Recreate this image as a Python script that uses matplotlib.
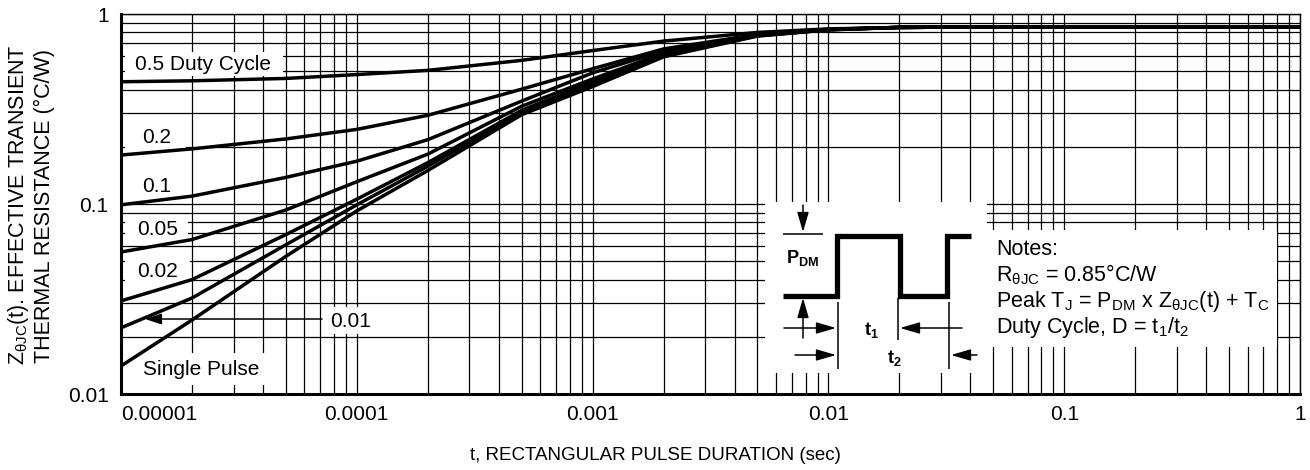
import matplotlib
matplotlib.use('Agg')
import matplotlib.pyplot as plt
from matplotlib.transforms import Affine2D
from matplotlib.patches import Rectangle
from matplotlib.ticker import LogLocator, NullFormatter, FixedLocator

plt.rcParams['font.family'] = ['Liberation Sans', 'DejaVu Sans']
plt.rcParams['mathtext.fontset'] = 'custom'
plt.rcParams['mathtext.rm'] = 'Liberation Sans'
plt.rcParams['mathtext.it'] = 'Liberation Sans:italic'
plt.rcParams['mathtext.bf'] = 'Liberation Sans:bold'

# ---------------- data ----------------
t_sec = [1e-5, 2e-5, 5e-5, 1e-4, 2e-4, 5e-4, 1e-3, 2e-3, 5e-3, 1e-2, 2e-2, 5e-2, 1e-1, 1.0]
z_d050 = [0.440, 0.445, 0.458, 0.480, 0.505, 0.570, 0.642, 0.720, 0.800, 0.835, 0.850, 0.855, 0.857, 0.857]
z_d020 = [0.181, 0.195, 0.220, 0.247, 0.293, 0.402, 0.515, 0.655, 0.780, 0.830, 0.850, 0.855, 0.857, 0.857]
z_d010 = [0.099, 0.110, 0.138, 0.168, 0.218, 0.348, 0.490, 0.640, 0.775, 0.830, 0.850, 0.855, 0.857, 0.857]
z_d005 = [0.0559, 0.065, 0.093, 0.131, 0.183, 0.327, 0.455, 0.622, 0.772, 0.828, 0.850, 0.855, 0.857, 0.857]
z_d002 = [0.0309, 0.040, 0.069, 0.106, 0.165, 0.311, 0.440, 0.610, 0.770, 0.827, 0.850, 0.855, 0.857, 0.857]
z_d001 = [0.0223, 0.032, 0.061, 0.099, 0.158, 0.303, 0.428, 0.603, 0.768, 0.826, 0.850, 0.855, 0.857, 0.857]
z_single = [0.01404, 0.0245, 0.053, 0.092, 0.150, 0.295, 0.415, 0.595, 0.765, 0.825, 0.850, 0.855, 0.857, 0.857]
series = [z_d050, z_d020, z_d010, z_d005, z_d002, z_d001, z_single]

x_ticks = [1e-5, 1e-4, 1e-3, 1e-2, 1e-1, 1]
x_ticklabels = ['0.00001', '0.0001', '0.001', '0.01', '0.1', '1']
y_ticks = [0.01, 0.1, 1]
y_ticklabels = ['0.01', '0.1', '1']

FS = 15
W, H = 1310, 470
fig = plt.figure(figsize=(W / 100, H / 100), dpi=100)
ax = fig.add_axes([121 / W, 1 - 394 / H, (1300 - 121) / W, (394 - 14) / H])
PX = Affine2D().scale(1 / W, -1 / H).translate(0, 1) + fig.transFigure

ax.set_xscale('log')
ax.set_yscale('log')
for s in series:
    ax.plot(t_sec, s, color='black', lw=2.5, zorder=3, solid_joinstyle='round')
ax.set_xlim(1e-5, 1)
ax.set_ylim(0.01, 1)

ax.xaxis.set_major_locator(FixedLocator(x_ticks))
ax.set_xticklabels(x_ticklabels)
ax.yaxis.set_major_locator(FixedLocator(y_ticks))
ax.set_yticklabels(y_ticklabels)
for a in (ax.xaxis, ax.yaxis):
    a.set_minor_locator(LogLocator(base=10, subs=range(2, 10), numticks=30))
    a.set_minor_formatter(NullFormatter())
ax.grid(True, which='both', color='black', lw=0.9)
ax.tick_params(which='both', length=0, labelsize=FS)
ax.tick_params(axis='x', pad=8)
ax.tick_params(axis='y', pad=9)
ax.get_xticklabels()[0].set_horizontalalignment('left')
for sp in ('left', 'bottom'):
    ax.spines[sp].set_linewidth(2.2)
for sp in ('top', 'right'):
    ax.spines[sp].set_linewidth(1.0)

# axis titles
fig.text(655 / W, 1 - 455 / H, 't, RECTANGULAR PULSE DURATION (sec)', ha='center', va='center', fontsize=13.5)
fig.text(19 / W, 1 - 205 / H, r'Z$_{\mathrm{θJC}}$(t). EFFECTIVE TRANSIENT', rotation=90,
         ha='center', va='center', fontsize=15.5)
fig.text(44 / W, 1 - 206 / H, 'THERMAL RESISTANCE (°C/W)', rotation=90,
         ha='center', va='center', fontsize=15.5)

def white(x0, y0, x1, y1):
    ax.add_patch(Rectangle((x0, y0), x1 - x0, y1 - y0, transform=PX, facecolor='white',
                           edgecolor='none', zorder=2.8, clip_on=False))

def txt(x, y, s, **kw):
    kw.setdefault('fontsize', FS)
    ax.text(x, y, s, transform=PX, ha=kw.pop('ha', 'left'), va=kw.pop('va', 'baseline'),
            zorder=6, clip_on=False, **kw)

def arrow(tail, tip, hl=1.2, hw=0.35):
    ax.annotate('', xy=tip, xytext=tail, xycoords=PX, textcoords=PX,
                arrowprops=dict(arrowstyle=f'-|>,head_length={hl},head_width={hw}', lw=1.1,
                                color='black', shrinkA=0, shrinkB=0, mutation_scale=10),
                zorder=6, annotation_clip=False)

def line(xs, ys, lw=1.1):
    ax.plot(xs, ys, transform=PX, color='black', lw=lw, zorder=6, clip_on=False,
            solid_capstyle='butt', solid_joinstyle='miter')

# curve labels
white(125, 52, 283, 76)
txt(135, 70, '0.5 Duty Cycle')
white(125, 125, 186, 150)
txt(142, 143, '0.2')
white(125, 172, 180, 196)
txt(142, 192, '0.1')
white(125, 217, 188, 240)
txt(137, 235, '0.05')
white(125, 256, 190, 284)
txt(137, 277, '0.02')
white(322, 307, 378, 334)
txt(330, 327, '0.01')
arrow((322, 319), (145, 319), hl=1.0, hw=0.33)
white(125, 353, 266, 385)
txt(143, 375, 'Single Pulse')

# inset: pulse diagram and notes
white(765, 202, 987, 373)
white(985, 230, 1277, 347)
line([783, 837, 837, 900, 900, 947, 947, 971], [296, 296, 236, 236, 296, 296, 236, 236], lw=3.8)
line([783, 823], [234, 234])
arrow((803, 205), (803, 232))
arrow((803, 338), (803, 298))
line([838, 838], [302, 369])
line([898, 898], [298, 340])
line([949, 949], [302, 369])
arrow((784, 328), (836, 328))
arrow((962, 328), (900, 328))
arrow((795, 355), (836, 355))
arrow((977, 355), (951, 355))
txt(786, 263, r'$\mathbf{P}_{\mathbf{DM}}$', fontsize=13)
txt(864, 335, r'$\mathbf{t}_{\mathbf{1}}$', fontsize=13)
txt(887, 363, r'$\mathbf{t}_{\mathbf{2}}$', fontsize=13)

NF = 15.5
txt(996, 255, 'Notes:', fontsize=NF)
txt(996, 281, r'R$_{\mathrm{θJC}}$ = 0.85°C/W', fontsize=NF)
txt(996, 307.5, r'Peak T$_{\mathrm{J}}$ = P$_{\mathrm{DM}}$ x Z$_{\mathrm{θJC}}$(t) + T$_{\mathrm{C}}$', fontsize=NF)
txt(996, 333, r'Duty Cycle, D = t$_{\mathrm{1}}$/t$_{\mathrm{2}}$', fontsize=NF)

fig.savefig('out.png', dpi=100)
